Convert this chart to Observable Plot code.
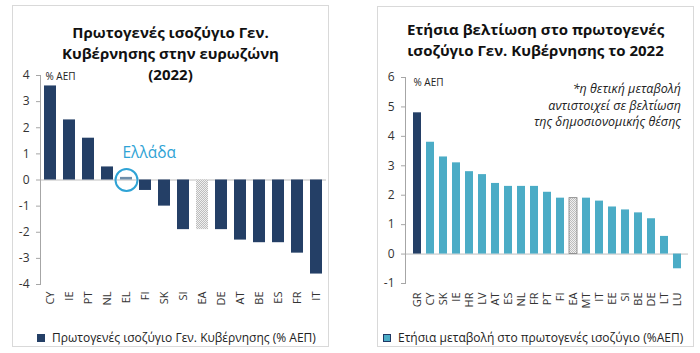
<!DOCTYPE html>
<html><head><meta charset="utf-8">
<script src="https://cdn.jsdelivr.net/npm/d3@7"></script>
<script src="https://cdn.jsdelivr.net/npm/@observablehq/plot@0.6"></script>
<style>
body{margin:0;width:700px;height:353px;position:relative;font-family:"Open Sans",sans-serif;background:#fff;overflow:hidden}
.panel{position:absolute;border:1px solid #d9d9d9;box-sizing:border-box}
.title{position:absolute;text-align:center;font-weight:bold;font-size:15px;line-height:21px;color:#111}
.chart{position:absolute}
.legend{position:absolute;font-size:12px;color:#222;display:flex;align-items:center;white-space:nowrap}
.sw{display:inline-block;width:8px;height:8px;margin-right:7px;box-sizing:border-box}
.note{position:absolute;font-style:italic;font-size:12.5px;line-height:16.5px;text-align:right;color:#222}
</style>
</head><body>
<svg width="0" height="0" style="position:absolute">
<defs>
<pattern id="hatch" patternUnits="userSpaceOnUse" width="2" height="2">
<rect width="2" height="2" fill="#f0f0f0"/>
<rect width="1" height="1" fill="#bdbdbd"/>
<rect x="1" y="1" width="1" height="1" fill="#bdbdbd"/>
</pattern>
</defs>
</svg>

<div class="panel" style="left:12px;top:5px;width:317px;height:342px"></div>
<div class="panel" style="left:377px;top:6px;width:317px;height:341px"></div>

<div class="title" style="left:12px;top:22px;width:317px">Πρωτογενές ισοζύγιο Γεν.<br>Κυβέρνησης στην ευρωζώνη<br>(2022)</div>
<div class="title" style="left:377px;top:19px;width:317px">Ετήσια βελτίωση στο πρωτογενές<br>ισοζύγιο Γεν. Κυβέρνησης το 2022</div>

<div id="left" class="chart" style="left:12px;top:65px"></div>
<div id="right" class="chart" style="left:377px;top:65px"></div>

<div class="note" style="left:470px;top:81px;width:211px">*η θετική μεταβολή<br>αντιστοιχεί σε βελτίωση<br>της δημοσιονομικής θέσης</div>

<div class="legend" style="left:37px;top:329px"><span class="sw" style="background:#243f66"></span>Πρωτογενές ισοζύγιο Γεν. Κυβέρνησης (% ΑΕΠ)</div>
<div class="legend" style="left:383px;top:329px"><span class="sw" style="background:#4bacc6;border:1px solid #1f3864"></span>Ετήσια μεταβολή στο πρωτογενές ισοζύγιο (%ΑΕΠ)</div>

<script>
const leftCats = ["CY","IE","PT","NL","EL","FI","SK","SI","EA","DE","AT","BE","ES","FR","IT"];
const leftVals = [3.6, 2.3, 1.6, 0.5, 0.1, -0.4, -1.0, -1.9, -1.9, -1.9, -2.3, -2.4, -2.4, -2.8, -3.6];
const leftTicks = [-4,-3,-2,-1,0,1,2,3,4];

const rightCats = ["GR","CY","SK","IE","HR","LV","AT","ES","NL","FR","PT","FI","EA","MT","IT","EE","SI","BE","DE","LT","LU"];
const rightVals = [4.8, 3.8, 3.3, 3.1, 2.8, 2.7, 2.4, 2.3, 2.3, 2.3, 2.1, 1.9, 1.9, 1.9, 1.8, 1.6, 1.5, 1.4, 1.2, 0.6, -0.5];
const rightTicks = [-1,0,1,2,3,4,5,6];

const navy = "#243f66", light = "#4bacc6", hl = "#2fa3d5", elc = "#6f8eaa";
const leftData = leftCats.map((c,i)=>({c, v:leftVals[i]}));
const rightData = rightCats.map((c,i)=>({c, v:rightVals[i]}));

const axisStyle = {fontFamily:"Open Sans, sans-serif", fontSize:"11px", color:"#333", background:"transparent"};
const fmt = d => String(d);

const L = Plot.plot({
  width: 317, height: 264,
  marginTop: 10, marginBottom: 45, marginLeft: 28, marginRight: 3,
  style: axisStyle,
  x: {domain: leftCats, paddingInner: 0.37, paddingOuter: 0.2, label: null},
  y: {domain: [-4, 4], label: null},
  marks: [
    Plot.ruleY([0], {stroke: "#bfbfbf", strokeWidth: 1}),
    Plot.barY(leftData.filter(d=>d.c!=="EA" && d.c!=="EL"), {x:"c", y:"v", fill: navy}),
    Plot.barY(leftData.filter(d=>d.c==="EL"), {x:"c", y:"v", fill: elc}),
    Plot.barY(leftData.filter(d=>d.c==="EA"), {x:"c", y:"v", fill: "url(#hatch)"}),
    Plot.frame({anchor:"left", stroke:"#a6a6a6"}),
    Plot.axisY({ticks: leftTicks, tickFormat: fmt, tickSize: 4, tickPadding: 7, stroke:"#a6a6a6", fontSize: 12}),
    Plot.axisX({tickSize: 0, tickRotate: -90, tickPadding: 7, fontSize: 11}),
    Plot.dot(leftData.filter(d=>d.c==="EL"), {x:"c", y: ()=>0, r: 11, stroke: hl, strokeWidth: 2, fill: "none"}),
    Plot.text(leftData.filter(d=>d.c==="EL"), {x:"c", y: ()=>1.04, text: ()=>"Ελλάδα", textAnchor:"start", dx:-4, fill: hl, fontSize: 15.5}),
    Plot.text(["% ΑΕΠ"], {frameAnchor:"top-left", dx: 5, dy: -3, fontSize: 10, fill:"#222"})
  ]
});
document.getElementById("left").append(L);

const R = Plot.plot({
  width: 316, height: 255,
  marginTop: 12, marginBottom: 37, marginLeft: 28, marginRight: 5,
  style: axisStyle,
  x: {domain: rightCats, paddingInner: 0.4, paddingOuter: 0.3, label: null},
  y: {domain: [-1, 6], label: null},
  marks: [
    Plot.ruleY([0], {stroke: "#bfbfbf", strokeWidth: 1}),
    Plot.barY(rightData.filter(d=>d.c!=="EA" && d.c!=="GR"), {x:"c", y:"v", fill: light}),
    Plot.barY(rightData.filter(d=>d.c==="GR"), {x:"c", y:"v", fill: navy}),
    Plot.barY(rightData.filter(d=>d.c==="EA"), {x:"c", y:"v", fill: "url(#hatch)", stroke:"#7f7f7f", strokeWidth: 0.8}),
    Plot.frame({anchor:"left", stroke:"#a6a6a6"}),
    Plot.axisY({ticks: rightTicks, tickFormat: fmt, tickSize: 4, tickPadding: 7, stroke:"#a6a6a6", fontSize: 12}),
    Plot.axisX({tickSize: 0, tickRotate: -90, tickPadding: 9, fontSize: 11}),
    Plot.text(["% ΑΕΠ"], {frameAnchor:"top-left", dx: 8, dy: 1, fontSize: 10, fill:"#222"})
  ]
});
document.getElementById("right").append(R);
</script>
</body></html>
